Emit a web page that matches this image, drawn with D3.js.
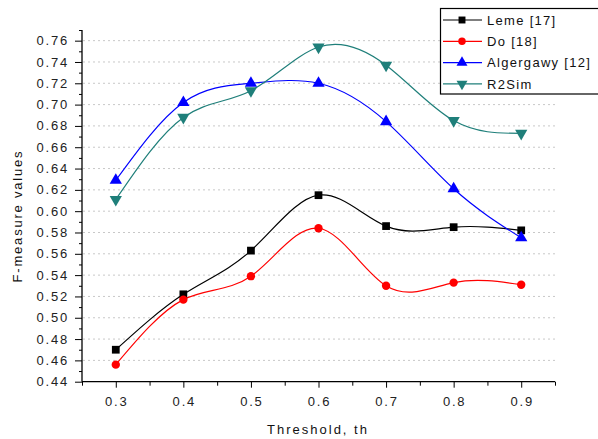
<!DOCTYPE html>
<html>
<head>
<meta charset="utf-8">
<script src="https://cdn.jsdelivr.net/npm/d3@7"></script>
<style>
  html, body { margin: 0; padding: 0; background: #fff; }
  svg { display: block; font-family: "Liberation Sans", Arial, sans-serif; }
</style>
</head>
<body>
<svg id="chart" width="598" height="439"></svg>
<script>
const thresholds = [0.3, 0.4, 0.5, 0.6, 0.7, 0.8, 0.9];
const leme      = [0.470, 0.522, 0.563, 0.615, 0.586, 0.585, 0.582];
const doVals    = [0.456, 0.517, 0.539, 0.584, 0.530, 0.533, 0.531];
const algergawy = [0.629, 0.702, 0.720, 0.720, 0.684, 0.621, 0.575];
const r2sim     = [0.611, 0.688, 0.713, 0.754, 0.737, 0.685, 0.673];
const seriesNames = ["Leme [17]", "Do [18]", "Algergawy [12]", "R2Sim"];
const yTicks = [0.44,0.46,0.48,0.50,0.52,0.54,0.56,0.58,0.60,0.62,0.64,0.66,0.68,0.70,0.72,0.74,0.76];
const xTicks = [0.3,0.4,0.5,0.6,0.7,0.8,0.9];

const series = [
  { name: seriesNames[0], values: leme, color: "#000000", symbol: d3.symbolSquare, size: 60, rot: 0 },
  { name: seriesNames[1], values: doVals, color: "#ff0000", symbol: d3.symbolCircle, size: 55, rot: 0 },
  { name: seriesNames[2], values: algergawy, color: "#0000ff", symbol: d3.symbolTriangle, size: 65, rot: 0 },
  { name: seriesNames[3], values: r2sim, color: "#1f7f7a", symbol: d3.symbolTriangle, size: 65, rot: 180 }
];

const svg = d3.select("#chart");
const mLeft = 82, mRight = 555, mTop = 30, mBottom = 381.7;
const x = d3.scaleLinear().domain([0.25, 0.95]).range([mLeft, mRight]);
const y = d3.scaleLinear().domain([0.44, 0.77]).range([mBottom, mTop]);

// grid lines
svg.append("g").selectAll("line").data(yTicks.slice(1)).join("line")
  .attr("x1", mLeft + 1).attr("x2", mRight + 2)
  .attr("y1", d => y(d)).attr("y2", d => y(d))
  .attr("stroke", "#c8c8c8").attr("stroke-width", 1)
  .attr("stroke-dasharray", "2,3");

// y axis
const yMinor = d3.range(0.44, 0.7701, 0.01).map(v => +v.toFixed(2));
const yAxis = svg.append("g").attr("transform", `translate(${mLeft},0)`);
yAxis.call(d3.axisLeft(y).tickValues(yMinor).tickSize(3).tickFormat(""));
yAxis.call(g => g.selectAll(".tick").filter(d => yTicks.some(t => Math.abs(t - d) < 1e-6)).select("line").attr("x2", -7));
yAxis.selectAll(".domain").remove();
yAxis.append("line").attr("x1", 0).attr("x2", 0).attr("y1", mTop).attr("y2", mBottom).attr("stroke", "#000").attr("stroke-width", 1.3);
const yLab = svg.append("g").attr("transform", `translate(${mLeft},0)`);
yLab.selectAll("text").data(yTicks).join("text")
  .attr("x", -13).attr("y", d => y(d)).attr("dy", "0.35em")
  .attr("text-anchor", "end").attr("font-size", 13).attr("letter-spacing", 1.8)
  .attr("fill", "#222").text(d => d3.format(".2f")(d));

// x axis
const xMinor = d3.range(0.25, 0.9501, 0.05).map(v => +v.toFixed(2));
const xAxis = svg.append("g").attr("transform", `translate(0,${mBottom})`);
xAxis.call(d3.axisBottom(x).tickValues(xMinor).tickSize(4).tickFormat(""));
xAxis.selectAll(".domain").remove();
xAxis.call(g => g.selectAll(".tick").filter(d => xTicks.some(t => Math.abs(t - d) < 1e-6)).select("line").attr("y2", 6));
xAxis.append("line").attr("x1", mLeft).attr("x2", mRight).attr("y1", 0).attr("y2", 0).attr("stroke", "#000").attr("stroke-width", 1.3);
svg.append("g").selectAll("text").data(xTicks).join("text")
  .attr("x", d => x(d) + 1).attr("y", 406)
  .attr("text-anchor", "middle").attr("font-size", 13).attr("letter-spacing", 1.8)
  .attr("fill", "#222").text(d => d3.format(".1f")(d));

// axis titles
svg.append("text").attr("x", 318).attr("y", 434).attr("text-anchor", "middle")
  .attr("font-size", 13).attr("letter-spacing", 2).attr("fill", "#111").text("Threshold, th");
svg.append("text").attr("transform", "translate(22,216) rotate(-90)").attr("text-anchor", "middle")
  .attr("font-size", 13).attr("letter-spacing", 1.8).attr("fill", "#111").text("F-measure values");

// lines
const line = d3.line().x((d, i) => x(thresholds[i])).y(d => y(d)).curve(d3.curveNatural);
series.forEach(s => {
  svg.append("path").attr("d", line(s.values)).attr("fill", "none")
    .attr("stroke", s.color).attr("stroke-width", 1.2);
});
series.forEach(s => {
  svg.append("g").selectAll("path").data(s.values).join("path")
    .attr("d", d3.symbol(s.symbol, s.size))
    .attr("transform", (d, i) => `translate(${x(thresholds[i])},${y(d)}) rotate(${s.rot})`)
    .attr("fill", s.color);
});

// legend
const lg = svg.append("g");
lg.append("rect").attr("x", 440.5).attr("y", 8.5).attr("width", 170).attr("height", 85.5)
  .attr("fill", "#fff").attr("stroke", "#000").attr("stroke-width", 1.2);
series.forEach((s, i) => {
  const yy = 20 + i * 21.3;
  lg.append("line").attr("x1", 443).attr("x2", 482).attr("y1", yy).attr("y2", yy)
    .attr("stroke", s.color).attr("stroke-width", 1.2);
  lg.append("path").attr("d", d3.symbol(s.symbol, s.size * 0.8))
    .attr("transform", `translate(462,${yy}) rotate(${s.rot})`).attr("fill", s.color);
  lg.append("text").attr("x", 487).attr("y", yy).attr("dy", "0.36em")
    .attr("font-size", 13).attr("letter-spacing", 1.3).attr("fill", "#111").text(s.name);
});
</script>
</body>
</html>
